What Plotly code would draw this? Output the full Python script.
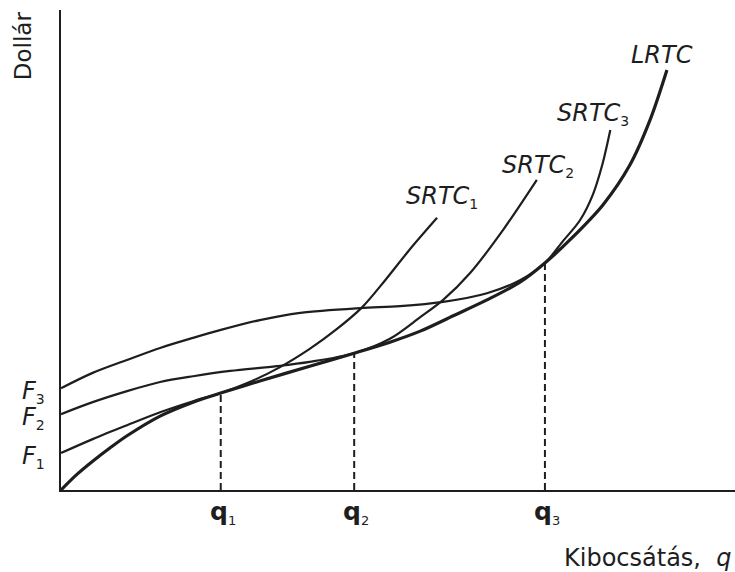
import plotly.graph_objects as go

# Output q (0-100 scale) and total cost (0-100 scale)
lrtc_q = [0, 2.4, 4.7, 7.3, 9.8, 14.7, 19.6, 23.7, 29.5, 36.9, 43.5, 48.8, 53.3, 58.2, 63.2, 68.1, 71.8, 75.5, 80.4, 84.4, 87.4, 89.9]
lrtc_c = [0, 3.3, 6.0, 8.8, 11.3, 15.4, 18.3, 20.2, 22.7, 25.8, 28.5, 30.8, 33.1, 36.3, 39.6, 43.3, 47.3, 52.1, 59.4, 67.7, 77.1, 87.5]

srtc1_q = [0, 4.7, 9.8, 14.7, 19.6, 23.7, 28.0, 32.5, 36.9, 40.9, 44.7, 48.1, 51.8, 55.8]
srtc1_c = [7.7, 10.6, 13.5, 16.2, 18.5, 20.2, 22.5, 25.6, 29.4, 33.5, 38.1, 43.7, 50.2, 56.7]

srtc2_q = [0, 4.7, 9.8, 14.7, 19.6, 25.1, 32.0, 36.9, 43.5, 48.8, 53.3, 56.7, 60.7, 65.6, 70.6]
srtc2_c = [15.8, 18.3, 20.6, 22.5, 23.7, 24.8, 25.8, 26.7, 28.5, 31.5, 36.0, 39.6, 45.2, 54.2, 64.6]

srtc3_q = [0, 4.7, 9.8, 14.7, 19.6, 23.6, 29.5, 35.5, 44.4, 50.3, 56.7, 63.2, 68.1, 71.8, 74.5, 77.0, 78.9, 80.3, 81.5]
srtc3_c = [21.2, 24.4, 27.1, 29.6, 31.7, 33.3, 35.4, 36.9, 37.9, 38.3, 39.2, 41.0, 43.7, 47.3, 51.9, 56.2, 61.5, 67.7, 75.0]

# Tangency points
q_points = [23.7, 43.5, 71.8]
q_costs = [20.2, 28.5, 47.3]
q_subs = ["1", "2", "3"]

# Fixed costs (intercepts)
f_values = [7.7, 15.8, 21.2]
f_subs = ["1", "2", "3"]

# Curve label anchors
curve_names = ["SRTC", "SRTC", "SRTC", "LRTC"]
curve_subs = ["1", "2", "3", ""]
curve_label_q = [56.6, 70.8, 79.0, 89.2]
curve_label_c = [61.0, 67.6, 78.3, 90.6]

INK = "#1e1e1e"
FONT = "DejaVu Sans"


def sub(s, size):
    return f"<sub><span style='font-size:{size}px'>{s}</span></sub>" if s else ""


fig = go.Figure()

for q, c in zip(q_points, q_costs):
    fig.add_trace(go.Scatter(x=[q, q], y=[0, c], mode="lines",
                             line=dict(color=INK, width=2, dash="7px,4px"),
                             hoverinfo="skip", showlegend=False))

for xs, ys in [(srtc1_q, srtc1_c), (srtc2_q, srtc2_c), (srtc3_q, srtc3_c)]:
    fig.add_trace(go.Scatter(x=xs, y=ys, mode="lines",
                             line=dict(color=INK, width=2.2, shape="spline", smoothing=0.9),
                             hoverinfo="skip", showlegend=False))

fig.add_trace(go.Scatter(x=lrtc_q, y=lrtc_c, mode="lines",
                         line=dict(color=INK, width=3.2, shape="spline", smoothing=0.9),
                         hoverinfo="skip", showlegend=False))

annotations = []
for v, s in zip(f_values, f_subs):
    annotations.append(dict(x=0, y=v, xref="x", yref="y", text="<i>F</i>" + sub(s, 14),
                            showarrow=False, xanchor="right", yanchor="middle",
                            xshift=-14, yshift=-4,
                            font=dict(family=FONT, size=24, color=INK)))
for q, s in zip(q_points, q_subs):
    annotations.append(dict(x=q, y=0, xref="x", yref="y", text="<b>q</b>" + sub(s, 13),
                            showarrow=False, xanchor="center", yanchor="top",
                            xshift=2, yshift=-5,
                            font=dict(family=FONT, size=25, color=INK)))
for name, s, x, y in zip(curve_names, curve_subs, curve_label_q, curve_label_c):
    annotations.append(dict(x=x, y=y, xref="x", yref="y", text=f"<i>{name}</i>" + sub(s, 14),
                            showarrow=False, xanchor="center", yanchor="middle",
                            font=dict(family=FONT, size=24, color=INK)))

annotations.append(dict(x=-0.056, y=0.925, xref="paper", yref="paper", text="Dollár",
                        textangle=-90, showarrow=False, xanchor="center", yanchor="middle",
                        font=dict(family=FONT, size=23, color=INK)))
annotations.append(dict(x=0.997, y=-0.142, xref="paper", yref="paper",
                        text="Kibocsátás,\u00a0\u00a0<i>q</i>", showarrow=False,
                        xanchor="right", yanchor="middle",
                        font=dict(family=FONT, size=24, color=INK)))

fig.update_layout(
    width=735, height=572,
    margin=dict(l=61, r=0, t=10, b=82),
    paper_bgcolor="white", plot_bgcolor="white",
    showlegend=False,
    annotations=annotations,
    xaxis=dict(range=[0, 100], showgrid=False, zeroline=False, showticklabels=False,
               ticks="", showline=True, linecolor=INK, linewidth=2, fixedrange=True),
    yaxis=dict(range=[0, 100], showgrid=False, zeroline=False, showticklabels=False,
               ticks="", showline=True, linecolor=INK, linewidth=2, fixedrange=True),
)

fig.write_html("out.html", post_script="document.body.style.margin='0px';",
               config={"displayModeBar": False})
